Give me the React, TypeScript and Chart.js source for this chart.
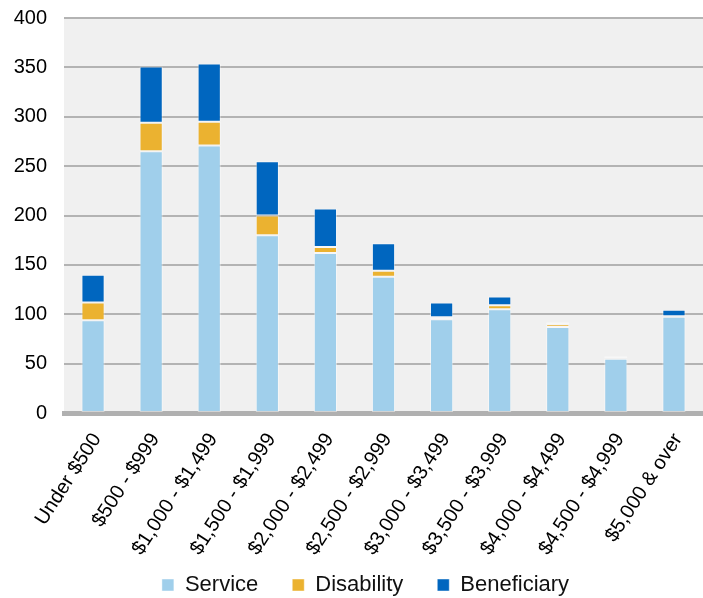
import React, { useEffect, useRef } from "react";
import { Chart, registerables } from "chart.js";

Chart.register(...registerables);

const categories = [
  "Under $500",
  "$500 - $999",
  "$1,000 - $1,499",
  "$1,500 - $1,999",
  "$2,000 - $2,499",
  "$2,500 - $2,999",
  "$3,000 - $3,499",
  "$3,500 - $3,999",
  "$4,000 - $4,499",
  "$4,500 - $4,999",
  "$5,000 & over",
];
const service = [94, 265, 271, 180, 162, 138, 95, 105, 87, 55, 97.5];
const disability = [18, 29, 24, 20, 6, 6, 2, 4, 3, 0.5, 0.5];
const beneficiary = [28, 57, 59, 55, 39, 28, 15, 9, 2, 2, 6.5];
const yTicksMax = 400;
const yTickStep = 50;

const FONT = "'Liberation Sans', Arial, sans-serif";

const bgPlugin = {
  id: "plotBg",
  afterLayout(chart: any) {
    const lg = chart.legend;
    if (lg) {
      lg.left += 14;
      lg.right += 14;
      lg.top -= 16;
      lg.bottom -= 16;
    }
  },
  beforeDraw(chart: any) {
    const { ctx, chartArea } = chart;
    if (!chartArea) return;
    ctx.save();
    ctx.fillStyle = "#f0f0f0";
    ctx.fillRect(chartArea.left, chartArea.top, chartArea.right - chartArea.left, chartArea.bottom - chartArea.top);
    ctx.restore();
  },
};

export default function App() {
  const ref = useRef<HTMLCanvasElement>(null);
  useEffect(() => {
    document.body.style.margin = "0";
    const ds = (label: string, data: number[], color: string) => ({
      label,
      data,
      backgroundColor: color,
      borderColor: "rgba(255,255,255,0.45)",
      borderWidth: 1,
      borderSkipped: false as any,
      barPercentage: 0.5,
      categoryPercentage: 0.8,
    });
    const chart = new Chart(ref.current!, {
      type: "bar",
      data: {
        labels: categories,
        datasets: [
          ds("Service", service, "#a0cfeb"),
          ds("Disability", disability, "#ebb230"),
          ds("Beneficiary", beneficiary, "#0066bf"),
        ],
      },
      options: {
        animation: false,
        responsive: false,
        maintainAspectRatio: false,
        layout: { padding: { top: 18, right: 0, left: 0, bottom: -24 } },
        plugins: {
          tooltip: { enabled: false },
          legend: {
            position: "bottom",
            labels: {
              boxWidth: 12,
              boxHeight: 12,
              padding: 34,
              color: "#111",
              font: { family: FONT, size: 22 },
            },
          },
        },
        scales: {
          x: {
            stacked: true,
            grid: { display: false, drawTicks: false },
            border: { display: true, color: "#b0b0b0", width: 5 },
            afterFit(scale: any) {
              scale.height = 143;
              scale.paddingLeft = 0;
              scale.paddingRight = 0;
            },
            ticks: {
              maxRotation: 57,
              minRotation: 57,
              color: "#000",
              padding: 16,
              labelOffset: 4,
              font: { family: FONT, size: 20 },
              autoSkip: false,
            },
          },
          y: {
            stacked: true,
            min: 0,
            max: yTicksMax,
            afterFit(scale: any) {
              scale.width = 64;
            },
            border: { display: false },
            grid: {
              color: "#b3b3b3",
              lineWidth: 2,
              drawTicks: true,
              tickLength: 17,
              tickColor: "rgba(0,0,0,0)",
            },
            ticks: {
              stepSize: yTickStep,
              color: "#000",
              padding: 0,
              font: { family: FONT, size: 20 },
            },
          },
        },
      },
      plugins: [bgPlugin],
    });
    return () => chart.destroy();
  }, []);
  return (
    <div style={{ position: "absolute", left: 0, top: 0, width: 703, height: 598 }}>
      <canvas ref={ref} width={703} height={598} style={{ width: 703, height: 598 }} />
    </div>
  );
}
